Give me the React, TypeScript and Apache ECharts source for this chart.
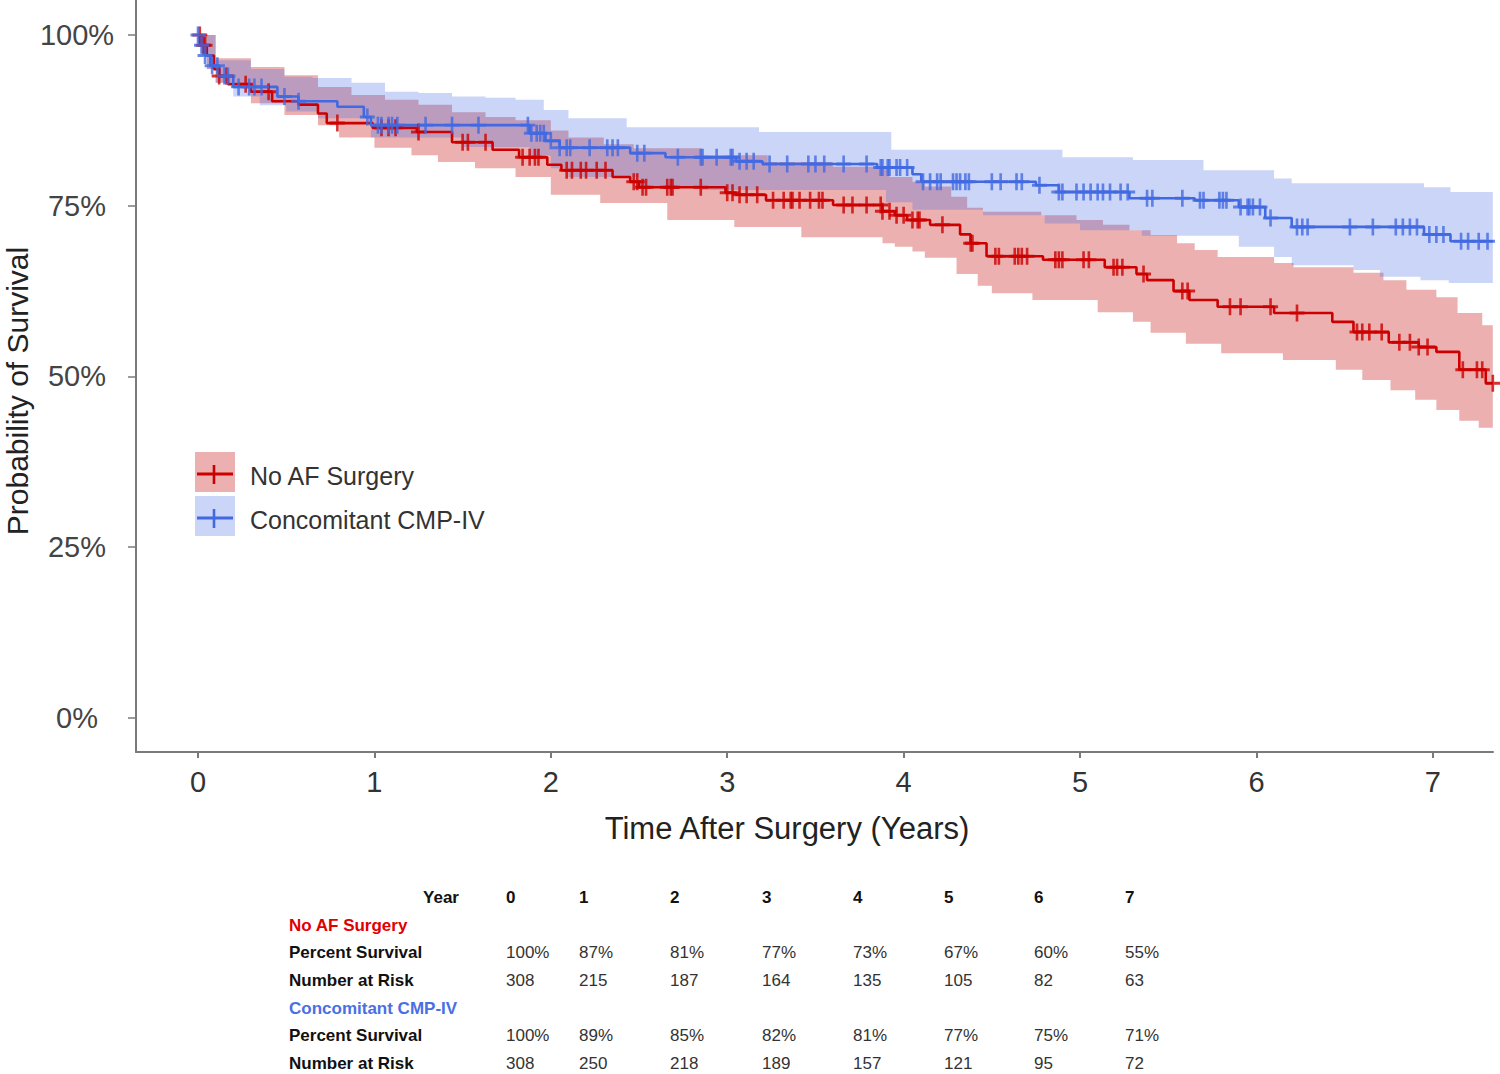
import React, { useEffect, useRef } from "react";
import * as echarts from "echarts";

// ---------- Data ----------
const xTicks = [0, 1, 2, 3, 4, 5, 6, 7];
const yTicks = [0, 25, 50, 75, 100];
const END_T = 7.34;

// Kaplan-Meier: No AF Surgery (years, % survival)
const noAfTimes = [0, 0.02, 0.05, 0.09, 0.12, 0.17, 0.3, 0.42, 0.57, 0.68, 0.73, 0.99, 1.24, 1.44, 1.67, 1.82, 1.98, 2.06, 2.35, 2.45, 2.5, 2.99, 3.05, 3.22, 3.6, 3.88, 3.95, 4.02, 4.15, 4.32, 4.38, 4.47, 4.79, 5.14, 5.32, 5.38, 5.53, 5.62, 5.78, 6.1, 6.43, 6.55, 6.75, 6.92, 7.02, 7.15, 7.3];
const noAfSurv = [100, 98.5, 97, 95, 94, 92.8, 91.7, 90.3, 89.8, 88.5, 87.1, 86.4, 85.8, 84.3, 83.2, 82.1, 81.0, 80.2, 79.2, 78.5, 77.7, 76.9, 76.6, 75.8, 75.1, 74.2, 73.6, 72.9, 72.2, 70.8, 69.5, 67.6, 67.1, 66.0, 65.0, 64.1, 62.5, 61.2, 60.2, 59.3, 58.0, 56.5, 55.0, 54.3, 53.6, 51.0, 49.0];

// Kaplan-Meier: Concomitant CMP-IV
const cmpTimes = [0, 0.01, 0.04, 0.07, 0.12, 0.2, 0.45, 0.57, 0.79, 0.94, 0.98, 1.88, 1.97, 2.05, 2.45, 2.65, 3.05, 3.2, 3.85, 4.05, 4.1, 4.75, 4.88, 5.28, 5.65, 5.9, 6.05, 6.2, 6.95, 7.1];
const cmpSurv = [100, 98.5, 97, 95.5, 94, 92.4, 91, 90.3, 89.5, 88, 86.8, 85.6, 84.5, 83.5, 82.7, 82.1, 81.5, 81.1, 80.6, 79.6, 78.5, 78.0, 77.0, 76.1, 75.8, 74.8, 73.2, 71.9, 70.8, 69.8];

// Confidence bands: No AF Surgery
const noAfUpperTimes = [0, 0.1, 0.3, 0.49, 0.68, 0.87, 1.06, 1.25, 1.44, 1.63, 1.8, 2.0, 2.1, 2.3, 2.47, 2.85, 3.23, 3.6, 3.92, 4.05, 4.12, 4.27, 4.36, 4.45, 4.78, 4.98, 5.13, 5.28, 5.4, 5.55, 5.65, 5.78, 6.1, 6.21, 6.55, 6.72, 6.85, 7.02, 7.14, 7.28];
const noAfUpper = [100, 96.6, 95.3, 94.1, 92.4, 91.2, 90.5, 89.8, 88.7, 88.0, 87.5, 86.0, 85.0, 84.0, 83.4, 82.4, 81.4, 80.7, 79.2, 78.5, 77.8, 76.3, 74.7, 74.1, 73.6, 72.9, 72.2, 71.4, 70.7, 69.5, 68.5, 67.5, 66.6, 66.0, 65.2, 64.1, 62.7, 61.6, 59.3, 57.5];
const noAfLowerTimes = [0, 0.02, 0.05, 0.1, 0.3, 0.49, 0.68, 0.8, 1.0, 1.21, 1.36, 1.57, 1.8, 2.0, 2.28, 2.66, 3.04, 3.42, 3.88, 3.95, 4.05, 4.12, 4.3, 4.42, 4.5, 4.73, 5.1, 5.3, 5.4, 5.6, 5.8, 6.15, 6.45, 6.6, 6.76, 6.9, 7.02, 7.15, 7.26];
const noAfLower = [100, 97, 95, 93, 90, 88.3, 86.8, 85.0, 83.5, 82.4, 81.4, 80.5, 79.2, 76.6, 75.4, 72.9, 71.9, 70.4, 69.5, 69.0, 68.3, 67.4, 65.0, 63.3, 62.2, 61.2, 59.4, 58.0, 56.4, 54.8, 53.4, 52.4, 51.0, 49.5, 48.0, 46.6, 45.1, 43.5, 42.5];

// Confidence bands: Concomitant CMP-IV
const cmpUpperTimes = [0, 0.1, 0.3, 0.49, 0.65, 0.87, 1.06, 1.25, 1.44, 1.63, 1.8, 1.96, 2.1, 2.43, 3.18, 3.93, 4.9, 5.3, 5.7, 6.1, 6.2, 6.95, 7.1];
const cmpUpper = [100, 96.3, 95.0, 93.9, 93.7, 93.0, 91.7, 91.5, 91.0, 90.8, 90.5, 89.0, 87.8, 86.5, 85.8, 83.2, 82.1, 81.7, 80.2, 79.0, 78.3, 77.7, 77.0];
const cmpLowerTimes = [0, 0.02, 0.05, 0.1, 0.2, 0.35, 0.5, 0.68, 0.98, 1.5, 1.88, 2.0, 2.1, 2.5, 2.85, 3.9, 4.05, 4.45, 4.8, 5.0, 5.35, 5.9, 6.1, 6.2, 6.55, 6.7, 6.93, 7.09];
const cmpLower = [100, 97, 95, 93, 91, 89.7, 88.8, 87.8, 85.0, 83.6, 82.3, 80.5, 79.2, 77.8, 77.3, 75.5, 74.4, 73.6, 72.4, 71.4, 70.6, 69.0, 67.5, 66.3, 65.6, 64.6, 64.1, 63.7];

// Censoring times (years)
const noAfCensor = [0.01, 0.03, 0.04, 0.12, 0.16, 0.27, 0.4, 0.79, 1.04, 1.08, 1.12, 1.25, 1.5, 1.53, 1.63, 1.84, 1.88, 1.91, 1.93, 2.09, 2.12, 2.17, 2.2, 2.26, 2.31, 2.47, 2.49, 2.52, 2.54, 2.66, 2.68, 2.69, 2.85, 3.0, 3.03, 3.07, 3.11, 3.17, 3.26, 3.32, 3.36, 3.37, 3.41, 3.47, 3.52, 3.54, 3.66, 3.71, 3.79, 3.87, 3.88, 3.92, 3.96, 4.0, 4.05, 4.08, 4.09, 4.22, 4.38, 4.39, 4.52, 4.54, 4.63, 4.65, 4.67, 4.7, 4.86, 4.88, 4.9, 5.02, 5.05, 5.19, 5.21, 5.24, 5.36, 5.58, 5.61, 5.85, 5.91, 6.08, 6.23, 6.57, 6.6, 6.64, 6.71, 6.81, 6.87, 6.92, 6.97, 7.17, 7.25, 7.28, 7.34];
const cmpCensor = [0.0, 0.02, 0.04, 0.08, 0.11, 0.15, 0.17, 0.23, 0.29, 0.32, 0.36, 0.49, 0.57, 0.96, 1.02, 1.04, 1.08, 1.1, 1.13, 1.29, 1.44, 1.59, 1.87, 1.89, 1.92, 1.94, 1.96, 2.0, 2.05, 2.09, 2.11, 2.22, 2.32, 2.35, 2.38, 2.49, 2.53, 2.72, 2.85, 2.86, 2.94, 3.02, 3.03, 3.07, 3.11, 3.15, 3.24, 3.34, 3.46, 3.5, 3.55, 3.66, 3.79, 3.87, 3.88, 3.91, 3.92, 3.96, 3.98, 4.02, 4.11, 4.15, 4.19, 4.21, 4.28, 4.3, 4.32, 4.35, 4.37, 4.5, 4.55, 4.64, 4.67, 4.77, 4.88, 4.9, 4.98, 5.02, 5.06, 5.1, 5.13, 5.17, 5.23, 5.27, 5.38, 5.41, 5.58, 5.68, 5.7, 5.79, 5.81, 5.83, 5.91, 5.95, 5.96, 5.98, 6.02, 6.08, 6.23, 6.26, 6.29, 6.53, 6.66, 6.79, 6.83, 6.87, 6.91, 6.98, 7.02, 7.06, 7.16, 7.2, 7.26, 7.31];

// Risk table
const tableYears = ["0", "1", "2", "3", "4", "5", "6", "7"];
const noAfPercent = ["100%", "87%", "81%", "77%", "73%", "67%", "60%", "55%"];
const noAfRisk = ["308", "215", "187", "164", "135", "105", "82", "63"];
const cmpPercent = ["100%", "89%", "85%", "82%", "81%", "77%", "75%", "71%"];
const cmpRisk = ["308", "250", "218", "189", "157", "121", "95", "72"];

// ---------- Styling ----------
const FONT = '"Liberation Sans", Arial, Helvetica, sans-serif';
const RED = "#CC0000";
const BLUE = "#4169E1";
const RED_FILL = "rgba(200,30,30,0.35)";
const BLUE_FILL = "rgba(65,105,225,0.28)";
const AXIS_COLOR = "#7a7a7a";
const PLUS = "path://M0,6.6H16V9.4H0Z M6.6,0H9.4V16H6.6Z";

function stepAt(times: number[], vals: number[], t: number) {
  let v = vals[0];
  for (let i = 0; i < times.length; i++) {
    if (times[i] <= t + 1e-9) v = vals[i];
    else break;
  }
  return v;
}

function stepPoly(times: number[], vals: number[], end: number) {
  const pts: number[][] = [];
  for (let i = 0; i < times.length; i++) {
    pts.push([times[i], vals[i]]);
    pts.push([i + 1 < times.length ? times[i + 1] : end, vals[i]]);
  }
  return pts;
}

function bandSeries(name: string, upT: number[], up: number[], loT: number[], lo: number[], fill: string) {
  return {
    type: "custom",
    name,
    silent: true,
    z: 1,
    coordinateSystem: "cartesian2d",
    data: upT.map((t, i) => [t, up[i]]).concat(loT.map((t, i) => [t, lo[i]])),
    encode: { x: 0, y: 1 },
    renderItem: (params: any, api: any) => {
      if (params.dataIndex !== 0) return null;
      const upper = stepPoly(upT, up, END_T);
      const lower = stepPoly(loT, lo, END_T).reverse();
      const points = upper.concat(lower).map((p) => api.coord(p));
      return { type: "polygon", shape: { points }, style: { fill, stroke: "none" } };
    },
  };
}

function kmSeries(name: string, times: number[], surv: number[], color: string) {
  const data = times.map((t, i) => [t, surv[i]]);
  data.push([END_T, surv[surv.length - 1]]);
  return {
    type: "line",
    name,
    step: "end",
    silent: true,
    z: 2,
    showSymbol: false,
    symbol: "none",
    data,
    lineStyle: { color, width: 2.6 },
  };
}

function censorSeries(name: string, censor: number[], times: number[], surv: number[], color: string) {
  return {
    type: "scatter",
    name,
    silent: true,
    z: 3,
    symbol: PLUS,
    symbolSize: [15, 17],
    itemStyle: { color },
    data: censor.map((t) => [t, stepAt(times, surv, t)]),
  };
}

function txt(text: string, x: number, y: number, opts: any = {}) {
  const align = opts.align || "left";
  return {
    type: "text",
    x,
    y,
    rotation: opts.rotation || 0,
    silent: true,
    z: 10,
    style: {
      text,
      fill: opts.color || "#222",
      fontSize: opts.size || 17,
      fontWeight: opts.weight || "normal",
      fontFamily: FONT,
      align,
      textAlign: align,
      verticalAlign: "middle",
      textVerticalAlign: "middle",
    },
  };
}

function buildGraphic() {
  const g: any[] = [];
  // axis titles
  g.push(txt("Time After Surgery (Years)", 787, 828, { size: 31, align: "center", color: "#222" }));
  g.push(txt("Probability of Survival", 17, 391, { size: 30, align: "center", color: "#222", rotation: Math.PI / 2 }));

  // legend
  g.push({ type: "rect", shape: { x: 195, y: 452, width: 40, height: 40 }, style: { fill: RED_FILL }, silent: true, z: 10 });
  g.push({ type: "rect", shape: { x: 195, y: 496, width: 40, height: 40 }, style: { fill: BLUE_FILL }, silent: true, z: 10 });
  g.push({ type: "line", shape: { x1: 197, y1: 474, x2: 233, y2: 474 }, style: { stroke: RED, lineWidth: 3 }, silent: true, z: 11 });
  g.push({ type: "line", shape: { x1: 214, y1: 465, x2: 214, y2: 484 }, style: { stroke: RED, lineWidth: 2.6 }, silent: true, z: 11 });
  g.push({ type: "line", shape: { x1: 197, y1: 518, x2: 233, y2: 518 }, style: { stroke: BLUE, lineWidth: 3 }, silent: true, z: 11 });
  g.push({ type: "line", shape: { x1: 214, y1: 509, x2: 214, y2: 528 }, style: { stroke: BLUE, lineWidth: 2.6 }, silent: true, z: 11 });
  g.push(txt("No AF Surgery", 250, 476, { size: 25, color: "#333" }));
  g.push(txt("Concomitant CMP-IV", 250, 520, { size: 25, color: "#333" }));

  // risk table
  const colX = [506, 579, 670, 762, 853, 944, 1034, 1125];
  const rowY = [897, 925, 952, 980, 1008, 1035, 1063];
  const labelX = 289;
  g.push(txt("Year", 459, rowY[0], { weight: "bold", align: "right", color: "#111" }));
  g.push(txt("No AF Surgery", labelX, rowY[1], { weight: "bold", color: "#E00000" }));
  g.push(txt("Percent Survival", labelX, rowY[2], { weight: "bold", color: "#111" }));
  g.push(txt("Number at Risk", labelX, rowY[3], { weight: "bold", color: "#111" }));
  g.push(txt("Concomitant CMP-IV", labelX, rowY[4], { weight: "bold", color: "#4A6FE3" }));
  g.push(txt("Percent Survival", labelX, rowY[5], { weight: "bold", color: "#111" }));
  g.push(txt("Number at Risk", labelX, rowY[6], { weight: "bold", color: "#111" }));
  tableYears.forEach((v, i) => g.push(txt(v, colX[i], rowY[0], { weight: "bold", color: "#111" })));
  noAfPercent.forEach((v, i) => g.push(txt(v, colX[i], rowY[2], { color: "#333" })));
  noAfRisk.forEach((v, i) => g.push(txt(v, colX[i], rowY[3], { color: "#333" })));
  cmpPercent.forEach((v, i) => g.push(txt(v, colX[i], rowY[5], { color: "#333" })));
  cmpRisk.forEach((v, i) => g.push(txt(v, colX[i], rowY[6], { color: "#333" })));
  return g;
}

export default function App() {
  const ref = useRef<HTMLDivElement>(null);
  useEffect(() => {
    if (!ref.current) return;
    const chart = echarts.init(ref.current, undefined, { renderer: "svg" });
    chart.setOption({
      animation: false,
      backgroundColor: "#ffffff",
      grid: { left: 136, right: 7, top: 0, bottom: 322, containLabel: false },
      xAxis: {
        type: "value",
        min: -0.3515,
        max: 7.341,
        splitLine: { show: false },
        axisLine: { show: true, onZero: false, lineStyle: { color: AXIS_COLOR, width: 2 } },
        axisTick: { show: true, customValues: xTicks, length: 6, lineStyle: { color: AXIS_COLOR, width: 2 } },
        axisLabel: { customValues: xTicks, fontSize: 29, color: "#333", fontFamily: FONT, margin: 15 },
      },
      yAxis: {
        type: "value",
        min: -4.98,
        max: 105.12,
        splitLine: { show: false },
        axisLine: { show: true, onZero: false, lineStyle: { color: AXIS_COLOR, width: 2 } },
        axisTick: { show: true, customValues: yTicks, length: 8, lineStyle: { color: AXIS_COLOR, width: 1.5 } },
        axisLabel: {
          customValues: yTicks,
          formatter: (v: number) => `${v}%`,
          fontSize: 29,
          color: "#444",
          fontFamily: FONT,
          align: "center",
          margin: 59,
        },
      },
      series: [
        bandSeries("No AF band", noAfUpperTimes, noAfUpper, noAfLowerTimes, noAfLower, RED_FILL),
        bandSeries("CMP band", cmpUpperTimes, cmpUpper, cmpLowerTimes, cmpLower, BLUE_FILL),
        kmSeries("No AF Surgery", noAfTimes, noAfSurv, RED),
        kmSeries("Concomitant CMP-IV", cmpTimes, cmpSurv, BLUE),
        censorSeries("No AF censor", noAfCensor, noAfTimes, noAfSurv, RED),
        censorSeries("CMP censor", cmpCensor, cmpTimes, cmpSurv, BLUE),
      ],
      graphic: buildGraphic(),
    });
    return () => chart.dispose();
  }, []);
  return (
    <div
      ref={ref}
      style={{ position: "absolute", left: 0, top: 0, width: 1500, height: 1074, background: "#fff" }}
    />
  );
}
